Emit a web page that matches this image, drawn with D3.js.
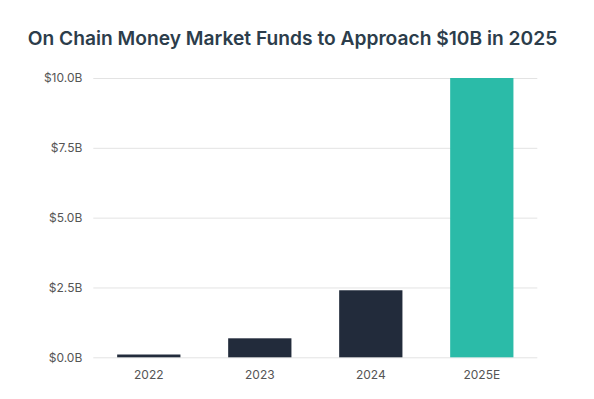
<!DOCTYPE html>
<html><head><meta charset="utf-8">
<script src="https://cdn.jsdelivr.net/npm/d3@7"></script>
<style>body{margin:0;background:#fff}</style>
</head><body><svg id="c" width="594" height="399"></svg>
<script>
const categories = ["2022","2023","2024","2025E"];
const values = [0.1, 0.68, 2.4, 10.0];
const yTicks = [0, 2.5, 5, 7.5, 10];
const barColors = ["#222b3b","#222b3b","#222b3b","#2bbba8"];
const title = "On Chain Money Market Funds to Approach $10B in 2025";

const svg = d3.select("#c");
svg.append("rect").attr("width",594).attr("height",399).attr("fill","#fff");

const x = d3.scaleBand().domain(categories).range([93.3, 537.3]).paddingInner(0.43).paddingOuter(0.215);
const y = d3.scaleLinear().domain([0,10]).range([357.3, 78]);

svg.append("text").attr("x",292.5).attr("y",45).attr("text-anchor","middle")
  .attr("font-family","Inter, sans-serif").attr("font-weight",600).attr("font-size",19.2)
  .attr("fill","#2c3d4b").text(title);

const yAxis = svg.append("g").attr("transform","translate(93.3,0)")
  .call(d3.axisLeft(y).tickValues(yTicks).tickSize(-444).tickPadding(11)
    .tickFormat(d => "$" + d3.format(".1f")(d) + "B"));
yAxis.select(".domain").remove();
yAxis.selectAll("line").attr("stroke","#e3e3e3");
yAxis.selectAll("text").attr("font-family","Inter, sans-serif").attr("font-size",12).attr("fill","#555");

svg.append("g").selectAll("rect").data(categories).join("rect")
  .attr("x", d => x(d)).attr("width", x.bandwidth())
  .attr("y", (d,i) => y(values[i])).attr("height", (d,i) => y(0) - y(values[i]))
  .attr("fill", (d,i) => barColors[i]);

const xAxis = svg.append("g").attr("transform","translate(0,357.3)")
  .call(d3.axisBottom(x).tickSize(0).tickPadding(13));
xAxis.select(".domain").remove();
xAxis.selectAll("text").attr("font-family","Inter, sans-serif").attr("font-size",12).attr("fill","#555");
</script></body></html>
